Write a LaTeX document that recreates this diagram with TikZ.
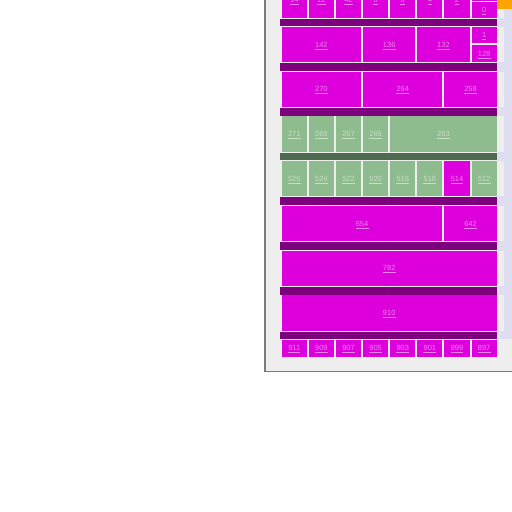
\documentclass[tikz,border=0pt]{standalone}
\usepackage{fontspec}
\setmainfont{Liberation Sans}
\definecolor{mag}{HTML}{DD00DD}
\definecolor{sepc}{HTML}{7D007D}
\definecolor{grn}{HTML}{8FBC8F}
\definecolor{gsep}{HTML}{4F6B4F}
\definecolor{bgc}{HTML}{EEEEEE}
\definecolor{lav}{HTML}{DEDEF0}
\definecolor{framec}{HTML}{7A7A7A}
\definecolor{orng}{HTML}{FFA500}
\tikzset{
  cellbox/.style={rectangle, inner sep=0pt, outer sep=0pt, draw=none},
  lbl/.style={font=\fontsize{7.5}{8}\selectfont, text=white, text opacity=0.5, inner sep=0pt,
    append after command={([yshift=-1.8pt]\tikzlastnode.base west) edge[draw=white, draw opacity=0.5, line width=0.5pt] ([yshift=-1.8pt]\tikzlastnode.base east)}},
  sepbox/.style={rectangle, inner sep=0pt, outer sep=0pt, draw=none, minimum width=217.3pt},
  seplbl/.style={font=\fontsize{3}{3}\selectfont, text=white, text opacity=0.5, inner sep=0pt},
}
\newcommand\mycell[7]{%
  \pgfmathsetmacro\xa{281.7+27.125*#2}%
  \pgfmathsetmacro\xb{281.7+27.125*#3+25.125}%
  \pgfmathsetmacro\cw{\xb-\xa}%
  \pgfmathsetmacro\ch{#5-#4}%
  \pgfmathsetmacro\cx{(\xa+\xb)/2}%
  \pgfmathsetmacro\cy{(#4+#5)/2}%
  \node[cellbox, fill=#7, minimum width=\cw pt, minimum height=\ch pt] (#1) at (\cx,\cy) {};%
  \node[lbl] (#1t) at (#1.center) {#6};%
}
\newcommand\mysep[4]{%
  \pgfmathsetmacro\cy{(#2+#3)/2}%
  \pgfmathsetmacro\ch{#3-#2}%
  \node[sepbox, fill=#4, minimum height=\ch pt] (#1) at (388.65,\cy) {};%
  \node[seplbl] (#1t) at (#1.center) {-};%
}
\begin{document}
\begin{tikzpicture}[x=1pt,y=-1pt]
\useasboundingbox[fill=white] (0,0) rectangle (512,512);
\clip (0,0) rectangle (512,512);
% panel background
\fill[bgc] (266,-5) rectangle (515,370.8);
\draw[framec, line width=1.5pt] (265,-5) -- (265,371.5) -- (515,371.5);
% right track
\fill[lav] (497.3,9) rectangle (515,338.5);
\fill[orng] (497.3,-2) rectangle (515,9);
\foreach \t/\b in {9/17.6, 27/62.3, 71.7/107.0, 116.4/151.7, 161.1/196.4, 205.8/241.1, 250.5/285.8, 295.2/330.5}
  \fill[bgc] (497.3,\t) rectangle (504,\b);
% row 1
\mycell{r1a}{0}{0}{-17.7}{17.6}{14}{mag}
\mycell{r1b}{1}{1}{-17.7}{17.6}{12}{mag}
\mycell{r1c}{2}{2}{-17.7}{17.6}{42}{mag}
\mycell{r1d}{3}{3}{-17.7}{17.6}{6}{mag}
\mycell{r1e}{4}{4}{-17.7}{17.6}{6}{mag}
\mycell{r1f}{5}{5}{-17.7}{17.6}{4}{mag}
\mycell{r1g}{6}{6}{-17.7}{17.6}{2}{mag}
\node[cellbox, fill=mag, minimum width=25.125pt, minimum height=19pt] (r1h) at (484.14,-8.2) {};
\mycell{r1i}{7}{7}{2.3}{17.6}{0}{mag}
\mysep{s1}{18.6}{26.3}{sepc}
% row 2
\mycell{r2a}{0}{2}{27}{62.3}{142}{mag}
\mycell{r2b}{3}{4}{27}{62.3}{136}{mag}
\mycell{r2c}{5}{6}{27}{62.3}{132}{mag}
\mycell{r2d}{7}{7}{27}{43.3}{1}{mag}
\mycell{r2e}{7}{7}{44.7}{62.3}{128}{mag}
\mysep{s2}{63.3}{71.0}{sepc}
% row 3
\mycell{r3a}{0}{2}{71.7}{107.0}{270}{mag}
\mycell{r3b}{3}{5}{71.7}{107.0}{264}{mag}
\mycell{r3c}{6}{7}{71.7}{107.0}{258}{mag}
\mysep{s3}{108.0}{115.7}{sepc}
% row 4
\mycell{r4a}{0}{0}{116.4}{151.7}{271}{grn}
\mycell{r4b}{1}{1}{116.4}{151.7}{269}{grn}
\mycell{r4c}{2}{2}{116.4}{151.7}{267}{grn}
\mycell{r4d}{3}{3}{116.4}{151.7}{265}{grn}
\mycell{r4e}{4}{7}{116.4}{151.7}{263}{grn}
\mysep{s4}{152.7}{160.4}{gsep}
% row 5
\mycell{r5a}{0}{0}{161.1}{196.4}{526}{grn}
\mycell{r5b}{1}{1}{161.1}{196.4}{524}{grn}
\mycell{r5c}{2}{2}{161.1}{196.4}{522}{grn}
\mycell{r5d}{3}{3}{161.1}{196.4}{520}{grn}
\mycell{r5e}{4}{4}{161.1}{196.4}{518}{grn}
\mycell{r5f}{5}{5}{161.1}{196.4}{516}{grn}
\mycell{r5g}{6}{6}{161.1}{196.4}{514}{mag}
\mycell{r5h}{7}{7}{161.1}{196.4}{512}{grn}
\mysep{s5}{197.4}{205.1}{sepc}
% row 6
\mycell{r6a}{0}{5}{205.8}{241.1}{654}{mag}
\mycell{r6b}{6}{7}{205.8}{241.1}{642}{mag}
\mysep{s6}{242.1}{249.8}{sepc}
% row 7
\mycell{r7a}{0}{7}{250.5}{285.8}{782}{mag}
\mysep{s7}{286.8}{294.5}{sepc}
% row 8
\mycell{r8a}{0}{7}{295.2}{330.5}{910}{mag}
\mysep{s8}{331.5}{339.2}{sepc}
% row 9
\mycell{r9a}{0}{0}{339.9}{356.7}{911}{mag}
\mycell{r9b}{1}{1}{339.9}{356.7}{909}{mag}
\mycell{r9c}{2}{2}{339.9}{356.7}{907}{mag}
\mycell{r9d}{3}{3}{339.9}{356.7}{905}{mag}
\mycell{r9e}{4}{4}{339.9}{356.7}{903}{mag}
\mycell{r9f}{5}{5}{339.9}{356.7}{901}{mag}
\mycell{r9g}{6}{6}{339.9}{356.7}{899}{mag}
\mycell{r9h}{7}{7}{339.9}{356.7}{897}{mag}
\end{tikzpicture}
\end{document}
